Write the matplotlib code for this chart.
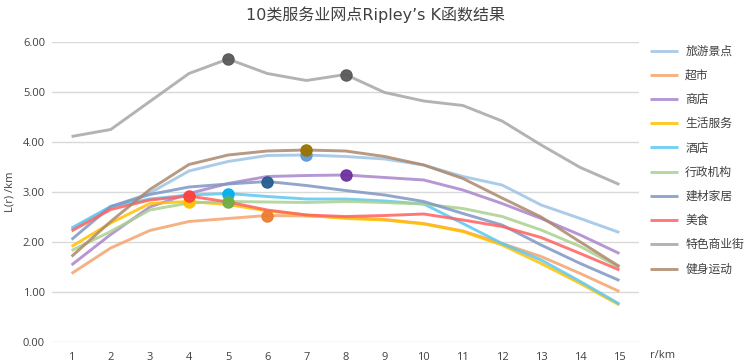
import matplotlib
matplotlib.use("Agg")
import matplotlib.pyplot as plt
import numpy as np

plt.rcParams['font.family'] = ['Noto Sans CJK SC', 'DejaVu Sans']

r = list(range(1, 16))
tick_labels = [str(i) for i in r]

names = ['旅游景点', '超市', '商店', '生活服务', '酒店', '行政机构', '建材家居', '美食', '特色商业街', '健身运动']

tourism   = [2.25, 2.70, 2.98, 3.42, 3.61, 3.73, 3.74, 3.71, 3.66, 3.54, 3.31, 3.14, 2.74, 2.47, 2.19]
market    = [1.37, 1.88, 2.23, 2.41, 2.47, 2.53, 2.52, 2.49, 2.45, 2.37, 2.22, 1.97, 1.71, 1.37, 1.01]
shop      = [1.54, 2.15, 2.70, 2.97, 3.17, 3.31, 3.33, 3.34, 3.29, 3.24, 3.04, 2.77, 2.47, 2.14, 1.77]
life      = [1.91, 2.38, 2.77, 2.81, 2.75, 2.62, 2.54, 2.47, 2.44, 2.36, 2.21, 1.94, 1.57, 1.17, 0.74]
hotel     = [2.28, 2.71, 2.86, 2.94, 2.97, 2.91, 2.86, 2.86, 2.82, 2.76, 2.37, 1.97, 1.64, 1.21, 0.76]
admin     = [1.83, 2.21, 2.64, 2.78, 2.81, 2.80, 2.79, 2.81, 2.79, 2.76, 2.67, 2.51, 2.24, 1.91, 1.49]
building  = [2.05, 2.71, 2.95, 3.10, 3.16, 3.21, 3.13, 3.03, 2.94, 2.81, 2.57, 2.34, 1.94, 1.57, 1.23]
food      = [2.22, 2.65, 2.84, 2.92, 2.80, 2.64, 2.54, 2.51, 2.53, 2.56, 2.44, 2.31, 2.09, 1.77, 1.44]
street    = [4.11, 4.25, 4.81, 5.37, 5.66, 5.37, 5.23, 5.35, 4.99, 4.82, 4.73, 4.42, 3.94, 3.49, 3.15]
fitness   = [1.71, 2.41, 3.05, 3.55, 3.74, 3.82, 3.84, 3.82, 3.71, 3.54, 3.27, 2.88, 2.50, 2.00, 1.51]

series = [tourism, market, shop, life, hotel, admin, building, food, street, fitness]

# highlighted points (r values of the peaks)
peaks = [[7], [6], [8], [4], [5], [5], [6], [4], [5, 8], [7]]

line_colors = ['#9DC3E6', '#F4A46E', '#A985CC', '#FFC000', '#5CC8F2', '#A9D18E',
               '#7F97C4', '#FF6161', '#A6A6A6', '#AC876B']
marker_colors = ['#5B9BD5', '#ED7D31', '#7030A0', '#FFC000', '#00B0F0', '#70AD47',
                 '#255E91', '#FF4040', '#595959', '#997300']

fig = plt.figure(figsize=(7.49, 3.64), dpi=100)
ax = fig.add_axes([52/749, 1-342/364, (639-52)/749, 300/364])

for vals, name, lc, mc, pk in zip(series, names, line_colors, marker_colors, peaks):
    ax.plot(r, vals, color=lc, lw=2.1, alpha=0.85, label=name, solid_capstyle='butt', zorder=2)
    for p in pk:
        ax.plot([p], [vals[p-1]], 'o', ms=8, color=mc, mec=mc, alpha=0.95, zorder=3)

latin = ['Open Sans', 'DejaVu Sans']
ax.set_xlim(0.5, 15.5)
ax.set_ylim(0, 6)
ax.set_yticks(np.arange(0, 6.01, 1))
ax.set_yticklabels([f'{v:.2f}' for v in np.arange(0, 6.01, 1)], fontsize=8, color='#404040',
                   family=latin)
ax.set_xticks(r)
ax.set_xticklabels(tick_labels, fontsize=8, color='#404040', family=latin)
ax.tick_params(length=0)
ax.tick_params(axis='y', pad=5)
ax.tick_params(axis='x', pad=7)
ax.grid(axis='y', color='#D9D9D9', lw=1)
ax.set_axisbelow(True)
for s in ax.spines.values():
    s.set_visible(False)

fig.text(650/749, 1-356/364, 'r/km', fontsize=8, color='#404040', va='center', ha='left',
         family=latin)
fig.text(10/749, 1-192/364, 'L(r) /km', fontsize=8, color='#404040', va='center', ha='center',
         rotation=90, family=latin)
fig.text(376/749, 1-15/364, '10类服务业网点Ripley\u2019s K函数结果', fontsize=11.5,
         color='#404040', ha='center', va='center',
         family=['DejaVu Sans', 'Noto Sans CJK SC'])

leg = fig.legend(loc='upper left', bbox_to_anchor=(645/749, 1-40/364), frameon=False,
                 fontsize=8.5, handlelength=2.4, handletextpad=0.6, labelspacing=0.95,
                 borderaxespad=0)
for t in leg.get_texts():
    t.set_color('#404040')

fig.savefig('out.png', dpi=100)
